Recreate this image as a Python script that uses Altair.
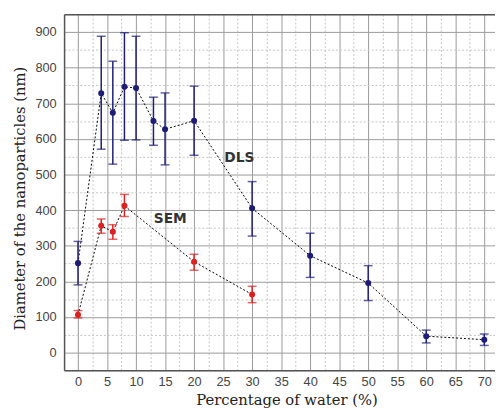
import altair as alt
import pandas as pd

# DLS series
dls_x = [0, 4, 6, 8, 10, 13, 15, 20, 30, 40, 50, 60, 70]
dls_y = [251, 728, 673, 746, 743, 650, 627, 651, 405, 272, 195, 46, 36]
dls_lo = [190, 571, 529, 596, 597, 582, 527, 554, 327, 211, 146, 27, 20]
dls_hi = [312, 888, 818, 898, 888, 717, 729, 748, 480, 335, 244, 63, 52]

# SEM series
sem_x = [0, 4, 6, 8, 20, 30]
sem_y = [106, 356, 339, 412, 255, 163]
sem_lo = [97, 335, 318, 382, 231, 140]
sem_hi = [118, 375, 359, 444, 276, 186]

# tick values
x_major = list(range(0, 75, 5))
x_minor = [v + 2.5 for v in range(0, 70, 5)]
y_major = list(range(0, 1000, 100))
y_minor = [v + 50 for v in range(-100, 950, 100)]

# annotation labels
label_text = ["DLS", "SEM"]
label_x = [27.8, 15.9]
label_y = [547, 376]

BLUE = "#1d1d78"
RED = "#dd2020"
FRAME = "#555555"

rows = []
for x, y, lo, hi in zip(dls_x, dls_y, dls_lo, dls_hi):
    rows.append({"series": "DLS", "x": x, "y": y, "lo": lo, "hi": hi})
for x, y, lo, hi in zip(sem_x, sem_y, sem_lo, sem_hi):
    rows.append({"series": "SEM", "x": x, "y": y, "lo": lo, "hi": hi})
df = pd.DataFrame(rows)
labels = pd.DataFrame({"text": label_text, "x": label_x, "y": label_y})

xs = alt.Scale(domain=[-2.4, 71.85], nice=False, zero=False)
ys = alt.Scale(domain=[-50, 950], nice=False, zero=False)
cs = alt.Scale(domain=["DLS", "SEM"], range=[BLUE, RED])

base = alt.Chart(df)

minor = base.mark_point(opacity=0).encode(
    x=alt.X("x:Q", scale=xs, axis=alt.Axis(values=x_minor, grid=True, gridDash=[2, 2],
                                           gridColor="#c4c4c4", gridWidth=1, labels=False,
                                           ticks=False, domain=True, domainColor=FRAME,
                                           domainWidth=1.5, title=None, orient="top")),
    y=alt.Y("y:Q", scale=ys, axis=alt.Axis(values=y_minor, grid=True, gridDash=[2, 2],
                                           gridColor="#c4c4c4", gridWidth=1, labels=False,
                                           ticks=False, domain=False, title=None, orient="right")),
)

lines = base.mark_line(color="black", strokeDash=[2, 2], strokeWidth=1).encode(
    x=alt.X("x:Q", scale=xs, axis=alt.Axis(
        values=x_major, grid=True, gridColor="#9a9a9a", gridWidth=1, ticks=False,
        domain=True, domainColor=FRAME, domainWidth=1.5,
        labelFont="Liberation Sans", labelFontSize=13, labelColor="#444", labelPadding=5,
        title="Percentage of water (%)", titleFont="DejaVu Serif", titleFontSize=15,
        titleFontWeight="normal", titleColor="#222", titleX=226, titleY=35,
        titleAlign="center", titleBaseline="alphabetic")),
    y=alt.Y("y:Q", scale=ys, axis=alt.Axis(
        values=y_major, grid=True, gridColor="#9a9a9a", gridWidth=1, ticks=False,
        domain=True, domainColor=FRAME, domainWidth=1.5,
        labelFont="Liberation Sans", labelFontSize=13, labelColor="#444", labelPadding=8,
        title="Diameter of the nanoparticles (nm)", titleFont="DejaVu Serif", titleFontSize=15,
        titleFontWeight="normal", titleColor="#222", titleX=-45, titleY=187, titleAngle=-90,
        titleAlign="center", titleBaseline="middle")),
    detail="series:N",
    order="x:Q",
)

rules = base.mark_rule(strokeWidth=1.5).encode(
    x=alt.X("x:Q", scale=xs, axis=None),
    y=alt.Y("lo:Q", scale=ys, axis=None),
    y2="hi:Q",
    color=alt.Color("series:N", scale=cs, legend=None),
)
cap_lo = base.mark_tick(orient="horizontal", size=9, thickness=1.5).encode(
    x=alt.X("x:Q", scale=xs, axis=None),
    y=alt.Y("lo:Q", scale=ys, axis=None),
    color=alt.Color("series:N", scale=cs, legend=None),
)
cap_hi = base.mark_tick(orient="horizontal", size=9, thickness=1.5).encode(
    x=alt.X("x:Q", scale=xs, axis=None),
    y=alt.Y("hi:Q", scale=ys, axis=None),
    color=alt.Color("series:N", scale=cs, legend=None),
)
points = base.mark_circle(size=38, opacity=1).encode(
    x=alt.X("x:Q", scale=xs, axis=None),
    y=alt.Y("y:Q", scale=ys, axis=None),
    color=alt.Color("series:N", scale=cs, legend=None),
)
text = alt.Chart(labels).mark_text(font="DejaVu Sans", fontWeight="bold", fontSize=14,
                                   color="#333").encode(
    x=alt.X("x:Q", scale=xs, axis=None),
    y=alt.Y("y:Q", scale=ys, axis=None),
    text="text:N",
)

chart = alt.layer(minor, lines, rules, cap_lo, cap_hi, points, text).resolve_axis(
    x="independent", y="independent"
).properties(
    width=438, height=362,
    padding={"left": 57, "top": 3, "right": 0, "bottom": 37},
    autosize=alt.AutoSizeParams(type="none"),
).configure_view(strokeWidth=0).configure(background="white")

chart.save("out.html", embed_options={"renderer": "svg", "actions": False})
